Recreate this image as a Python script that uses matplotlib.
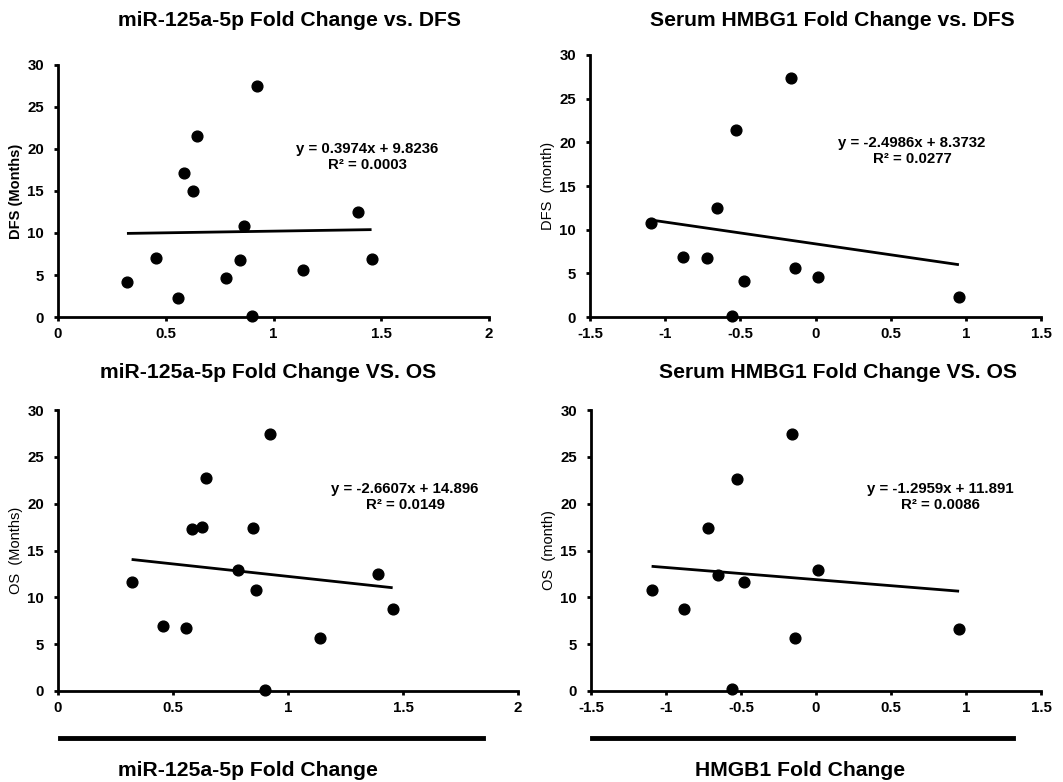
import numpy as np
from matplotlib import pyplot as plt
from matplotlib.lines import Line2D

plt.rcParams['font.family'] = ['Liberation Sans', 'DejaVu Sans']

# miR-125a-5p fold change (shared by the two left panels)
mir_fc = [0.32, 0.455, 0.555, 0.583, 0.627, 0.644, 0.781, 0.846, 0.862, 0.901, 0.923, 1.137, 1.39, 1.455]
mir_dfs = [4.2, 7.0, 2.3, 17.2, 15.0, 21.5, 4.6, 6.8, 10.8, 0.1, 27.5, 5.6, 12.5, 6.9]
mir_os = [11.6, 6.95, 6.7, 17.25, 17.5, 22.7, 12.9, 17.4, 10.8, 0.15, 27.4, 5.67, 12.5, 8.8]

# serum HMGB1 fold change (shared by the two right panels)
hmgb1_fc = [-1.096, -0.88, -0.72, -0.652, -0.557, -0.528, -0.477, -0.16, -0.137, 0.015, 0.954]
hmgb1_dfs = [10.8, 6.87, 6.8, 12.45, 0.15, 21.4, 4.16, 27.4, 5.57, 4.62, 2.33]
hmgb1_os = [10.8, 8.78, 17.4, 12.36, 0.18, 22.6, 11.6, 27.4, 5.66, 12.9, 6.6]

# trend lines as printed on the chart: slope, intercept, R2
fits = {
    'mir_dfs': (0.3974, 9.8236, '0.0003'),
    'hmgb1_dfs': (-2.4986, 8.3732, '0.0277'),
    'mir_os': (-2.6607, 14.896, '0.0149'),
    'hmgb1_os': (-1.2959, 11.891, '0.0086'),
}

mir_ticks = [0, 0.5, 1, 1.5, 2]
hmgb1_ticks = [-1.5, -1, -0.5, 0, 0.5, 1, 1.5]
y_ticks = [0, 5, 10, 15, 20, 25, 30]

W, H = 1063, 782
fig = plt.figure(figsize=(W / 100, H / 100), dpi=100)


def px_axes(left, top, right, bottom):
    return fig.add_axes([left / W, 1 - bottom / H, (right - left) / W, (bottom - top) / H])


def setup(ax, x, y, key, xlim, xticks, ylabel, ylabel_bold, title, title_y, eq_xy):
    slope, icpt, r2 = fits[key]
    ax.scatter(x, y, s=60, color='black', zorder=3, clip_on=False)
    xs = np.array([min(x), max(x)])
    ax.plot(xs, slope * xs + icpt, color='black', lw=2.0, solid_capstyle='butt')
    ax.set_xlim(*xlim)
    ax.set_ylim(0, 30)
    ax.set_xticks(xticks)
    ax.set_xticklabels([('%g' % t) for t in xticks])
    ax.set_yticks(y_ticks)
    for s in ['top', 'right']:
        ax.spines[s].set_visible(False)
    for s in ['left', 'bottom']:
        ax.spines[s].set_linewidth(2)
    ax.tick_params(direction='out', length=3, width=2, labelsize=10.8)
    ax.tick_params(axis='x', pad=4)
    ax.tick_params(axis='y', pad=7)
    for lab in ax.get_xticklabels() + ax.get_yticklabels():
        lab.set_fontweight('bold')
    ax.set_ylabel(ylabel, fontsize=10.5, fontweight='bold' if ylabel_bold else 'normal', labelpad=3)
    sign = '+' if icpt >= 0 else '-'
    eq = 'y = %gx %s %g\nR\u00b2 = %s' % (slope, sign, abs(icpt), r2)
    ax.text(eq_xy[0] / W, 1 - eq_xy[1] / H, eq, transform=fig.transFigure, ha='center', va='center',
            fontsize=10.8, fontweight='bold', linespacing=1.15)
    fig.text(title_y[0] / W, 1 - title_y[1] / H, title, ha='center', va='center',
             fontsize=15.2, fontweight='bold')


ax1 = px_axes(58, 65, 489, 317)
setup(ax1, mir_fc, mir_dfs, 'mir_dfs', (0, 2), mir_ticks, 'DFS (Months)', True,
      'miR-125a-5p Fold Change vs. DFS', (290, 20), (367, 157))

ax2 = px_axes(590, 55, 1041, 317)
setup(ax2, hmgb1_fc, hmgb1_dfs, 'hmgb1_dfs', (-1.5, 1.5), hmgb1_ticks, 'DFS  (month)', False,
      'Serum HMBG1 Fold Change vs. DFS', (832, 20), (912, 151))

ax3 = px_axes(58, 410, 518, 691)
setup(ax3, mir_fc, mir_os, 'mir_os', (0, 2), mir_ticks, 'OS  (Months)', False,
      'miR-125a-5p Fold Change VS. OS', (268, 373), (405, 497))

ax4 = px_axes(591, 410, 1041, 691)
setup(ax4, hmgb1_fc, hmgb1_os, 'hmgb1_os', (-1.5, 1.5), hmgb1_ticks, 'OS  (month)', False,
      'Serum HMBG1 Fold Change VS. OS', (838, 373), (940, 497))

# bars and shared axis captions under the bottom row
for x0, x1 in [(60, 483), (592, 1013)]:
    fig.add_artist(Line2D([x0 / W, x1 / W], [1 - 738 / H, 1 - 738 / H], color='black', lw=3.5,
                          transform=fig.transFigure))
fig.text(248 / W, 1 - 770 / H, 'miR-125a-5p Fold Change', ha='center', va='center',
         fontsize=15.2, fontweight='bold')
fig.text(800 / W, 1 - 770 / H, 'HMGB1 Fold Change', ha='center', va='center',
         fontsize=15.2, fontweight='bold')

fig.savefig('out.png', dpi=100)
